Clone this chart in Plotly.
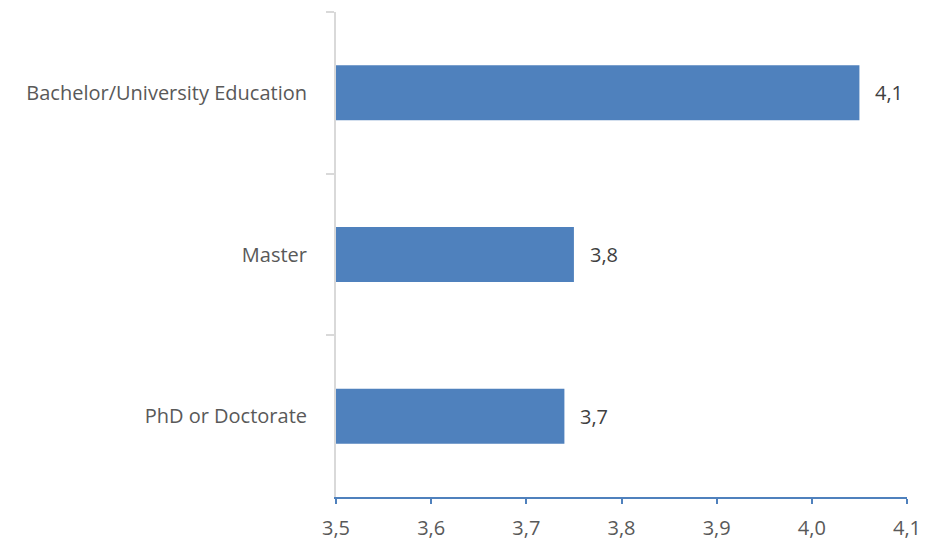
import plotly.graph_objects as go

categories = ["Bachelor/University Education", "Master", "PhD or Doctorate"]
values = [4.05, 3.75, 3.74]
value_labels = ["4,1", "3,8", "3,7"]
x_ticks = [3.5, 3.6, 3.7, 3.8, 3.9, 4.0, 4.1]
x_tick_labels = ["3,5", "3,6", "3,7", "3,8", "3,9", "4,0", "4,1"]
x_base = 3.5

font_family = "'Open Sans', sans-serif"
text_color = "#595959"
fsize = 20

fig = go.Figure()
fig.add_trace(go.Bar(
    y=categories, x=[v - x_base for v in values], base=x_base, orientation="h",
    marker=dict(color="#4F81BD", line=dict(width=0)),
    hoverinfo="skip",
))

for c, v, lab in zip(categories, values, value_labels):
    fig.add_annotation(x=v, y=c, text=lab, showarrow=False, xanchor="left",
                       xshift=14, font=dict(size=fsize, color="#404040", family=font_family))

fig.update_layout(
    width=926, height=542,
    margin=dict(l=336, r=19, t=12, b=45, autoexpand=False),
    plot_bgcolor="white", paper_bgcolor="white",
    bargap=0.66,
    showlegend=False,
    font=dict(family=font_family, size=fsize, color=text_color),
    separators=",.",
)
fig.update_xaxes(
    range=[3.5, 4.1], tickvals=x_ticks, ticktext=x_tick_labels,
    showgrid=False, zeroline=False, automargin=False,
    showline=True, linecolor="#4F81BD", linewidth=2,
    ticks="outside", ticklen=5, tickcolor="#4F81BD", tickwidth=2,
    ticklabelstandoff=7,
    tickfont=dict(size=fsize, color=text_color),
)
fig.update_yaxes(
    categoryorder="array", categoryarray=categories, autorange="reversed",
    showgrid=False, zeroline=False, automargin=False,
    showline=True, linecolor="#D9D9D9", linewidth=2,
    ticks="outside", ticklen=8, tickcolor="#D9D9D9", tickwidth=2,
    tickson="boundaries",
    ticklabelstandoff=23,
    tickfont=dict(size=fsize, color=text_color),
)

fig.write_html("out.html")
